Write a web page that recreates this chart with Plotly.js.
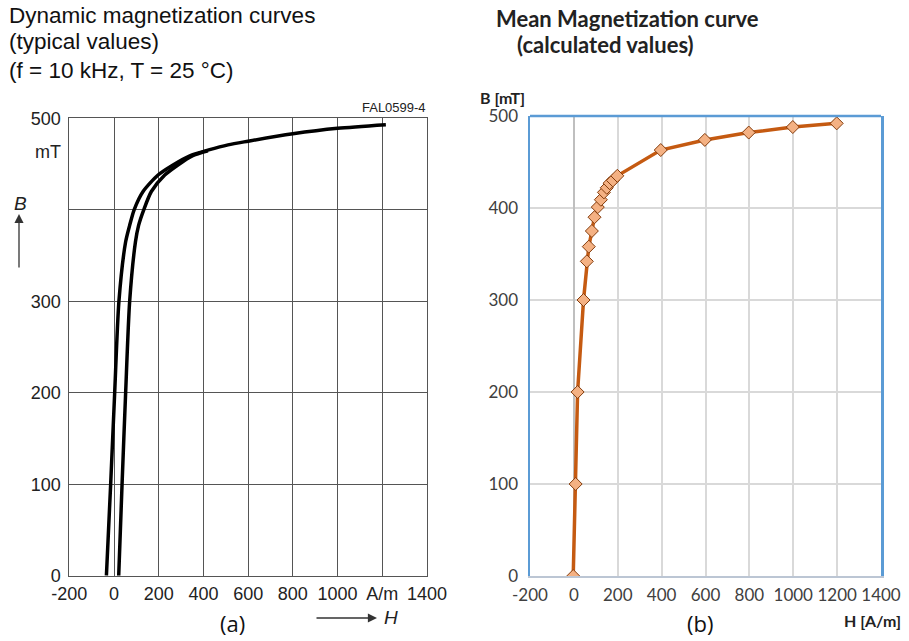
<!DOCTYPE html>
<html>
<head>
<meta charset="utf-8">
<script src="https://cdn.plot.ly/plotly-3.0.1.min.js"></script>
<style>html,body{margin:0;padding:0;background:#fff;}#chart{width:909px;height:641px;}</style>
</head>
<body>
<div id="chart"></div>
<script>
// ---- data (a): dynamic magnetization curves (typical values) ----
const branchUpH = [-34, -15, 3, 22, 52, 70, 90, 130, 197, 264, 339, 510, 600, 800, 1000, 1216];
const branchUpB = [0, 100, 200, 300, 365, 383, 400, 420, 438, 449, 459, 471, 475, 483, 489, 493];
const branchLowH = [21, 36, 52, 70, 96, 110, 133, 167, 227, 286, 350, 420];
const branchLowB = [0, 100, 200, 300, 365, 383, 400, 420, 438, 449, 459, 464.5];

// ---- data (b): mean magnetization curve (calculated values) ----
const meanH = [-3, 8, 17, 44, 59, 68, 82, 94, 109, 123, 137, 150, 163, 178, 198, 396, 597, 797, 998, 1198];
const meanB = [0, 100, 200, 300, 342, 358, 375, 390, 401, 409, 417, 422, 427, 430, 435, 463, 474, 482, 488, 492];

// ---- ticks ----
const xTickVals = [-200, 0, 200, 400, 600, 800, 1000, 1200, 1400];
const xTickTextA = ['-200', '0', '200', '400', '600', '800', '1000', 'A/m', '1400'];
const xTickTextB = ['-200', '0', '200', '400', '600', '800', '1000', '1200', '1400'];
const yTickVals = [0, 100, 200, 300, 400, 500];
const yTickTextA = ['0', '100', '200', '300', '', '500'];
const yTickTextB = ['0', '100', '200', '300', '400', '500'];

const W = 909, H = 641;
const px = v => v / W;
const py = v => 1 - v / H;

const arial = 'Liberation Sans, Arial, sans-serif';
const cal = 'Lato, Open Sans, sans-serif';

const traces = [
  {x: branchUpH, y: branchUpB, xaxis: 'x', yaxis: 'y', mode: 'lines',
   line: {color: '#000', width: 3.5, shape: 'spline', smoothing: 0.7}, hoverinfo: 'skip'},
  {x: branchLowH, y: branchLowB, xaxis: 'x', yaxis: 'y', mode: 'lines',
   line: {color: '#000', width: 3.5, shape: 'spline', smoothing: 0.7}, hoverinfo: 'skip'},
  {x: meanH, y: meanB, xaxis: 'x2', yaxis: 'y2', mode: 'lines+markers',
   line: {color: '#c55a11', width: 3.5},
   marker: {symbol: 'diamond', size: 10, color: '#f4b183', line: {color: '#843c0c', width: 1}}}
];

const layout = {
  width: W, height: H,
  margin: {l: 0, r: 0, t: 0, b: 0},
  paper_bgcolor: '#fff', plot_bgcolor: '#fff',
  showlegend: false,
  xaxis: {
    domain: [px(69.3), px(427)], range: [-200, 1400], anchor: 'y',
    tickvals: xTickVals, ticktext: xTickTextA, ticks: '', ticklabelstandoff: 2,
    showgrid: true, gridcolor: '#555', gridwidth: 1, zeroline: false,
    showline: true, linecolor: '#555', linewidth: 1, mirror: true,
    tickfont: {family: arial, size: 18, color: '#222'}
  },
  yaxis: {
    domain: [py(575.7), py(118.3)], range: [0, 500], anchor: 'x',
    tickvals: yTickVals, ticktext: yTickTextA, ticks: '', ticklabelstandoff: 4,
    showgrid: true, gridcolor: '#555', gridwidth: 1, zeroline: false,
    showline: true, linecolor: '#555', linewidth: 1, mirror: true,
    tickfont: {family: arial, size: 18, color: '#222'}
  },
  xaxis2: {
    domain: [px(530), px(881)], range: [-200, 1400], anchor: 'y2',
    tickvals: xTickVals, ticktext: xTickTextB, ticks: '', ticklabelstandoff: 3,
    showgrid: true, gridcolor: '#d9d9d9', gridwidth: 2,
    zeroline: true, zerolinecolor: '#bfbfbf', zerolinewidth: 2,
    showline: true, linecolor: '#bcc6d4', linewidth: 2,
    tickfont: {family: cal, size: 17, color: '#404040'}
  },
  yaxis2: {
    domain: [py(576), py(116)], range: [0, 500], anchor: 'x2',
    tickvals: yTickVals, ticktext: yTickTextB, ticks: '', ticklabelstandoff: 6,
    showgrid: true, gridcolor: '#d9d9d9', gridwidth: 2, zeroline: false,
    showline: true, linecolor: '#5b9bd5', linewidth: 2.5, mirror: true,
    tickfont: {family: cal, size: 17, color: '#404040'}
  },
  shapes: [
    {type: 'line', xref: 'x2 domain', yref: 'y2 domain', x0: 0, x1: 1, y0: 1, y1: 1,
     line: {color: '#5b9bd5', width: 2.5}, layer: 'above'}
  ],
  annotations: [
    // (a) titles
    {xref: 'paper', yref: 'paper', x: px(7), y: py(15), xanchor: 'left', yanchor: 'middle', showarrow: false,
     text: 'Dynamic magnetization curves', font: {family: arial, size: 22.5, color: '#111'}},
    {xref: 'paper', yref: 'paper', x: px(7), y: py(42), xanchor: 'left', yanchor: 'middle', showarrow: false,
     text: '(typical values)', font: {family: arial, size: 22.5, color: '#111'}},
    {xref: 'paper', yref: 'paper', x: px(7), y: py(70), xanchor: 'left', yanchor: 'middle', showarrow: false,
     text: '(f = 10 kHz, T = 25 °C)', font: {family: arial, size: 22.5, color: '#111'}},
    {xref: 'paper', yref: 'paper', x: px(428), y: py(107), xanchor: 'right', yanchor: 'middle', showarrow: false,
     text: 'FAL0599-4', font: {family: arial, size: 13, color: '#222'}},
    {xref: 'paper', yref: 'paper', x: px(63), y: py(152), xanchor: 'right', yanchor: 'middle', showarrow: false,
     text: 'mT', font: {family: arial, size: 18, color: '#222'}},
    {xref: 'paper', yref: 'paper', x: px(20), y: py(203), xanchor: 'center', yanchor: 'middle', showarrow: false,
     text: '<i>B</i>', font: {family: arial, size: 19, color: '#222'}},
    {xref: 'paper', yref: 'paper', x: px(19), y: py(214), ax: px(19), ay: py(269), axref: 'paper', ayref: 'paper',
     showarrow: true, arrowhead: 2, arrowsize: 1.4, arrowwidth: 1.3, arrowcolor: '#333', text: ''},
    {xref: 'paper', yref: 'paper', x: px(377), y: py(618), ax: px(315), ay: py(618), axref: 'paper', ayref: 'paper',
     showarrow: true, arrowhead: 2, arrowsize: 1.4, arrowwidth: 1.3, arrowcolor: '#333', text: ''},
    {xref: 'paper', yref: 'paper', x: px(391), y: py(617), xanchor: 'center', yanchor: 'middle', showarrow: false,
     text: '<i>H</i>', font: {family: arial, size: 19, color: '#222'}},
    {xref: 'paper', yref: 'paper', x: px(233), y: py(623), xanchor: 'center', yanchor: 'middle', showarrow: false,
     text: '(a)', font: {family: 'Open Sans, sans-serif', size: 22, color: '#111'}},
    // (b) titles
    {xref: 'paper', yref: 'paper', x: px(627), y: py(18), xanchor: 'center', yanchor: 'middle', showarrow: false,
     text: '<b>Mean Magnetization curve</b>', font: {family: cal, size: 22, color: '#222'}},
    {xref: 'paper', yref: 'paper', x: px(605), y: py(44), xanchor: 'center', yanchor: 'middle', showarrow: false,
     text: '<b>(calculated values)</b>', font: {family: cal, size: 22, color: '#222'}},
    {xref: 'paper', yref: 'paper', x: px(503), y: py(98), xanchor: 'center', yanchor: 'middle', showarrow: false,
     text: '<b>B [mT]</b>', font: {family: cal, size: 16, color: '#222'}},
    {xref: 'paper', yref: 'paper', x: px(872), y: py(620), xanchor: 'center', yanchor: 'middle', showarrow: false,
     text: '<b>H [A/m]</b>', font: {family: cal, size: 16, color: '#222'}},
    {xref: 'paper', yref: 'paper', x: px(700), y: py(623), xanchor: 'center', yanchor: 'middle', showarrow: false,
     text: '(b)', font: {family: 'Open Sans, sans-serif', size: 22, color: '#111'}}
  ]
};

Plotly.newPlot('chart', traces, layout, {displayModeBar: false, staticPlot: true});
</script>
</body>
</html>
